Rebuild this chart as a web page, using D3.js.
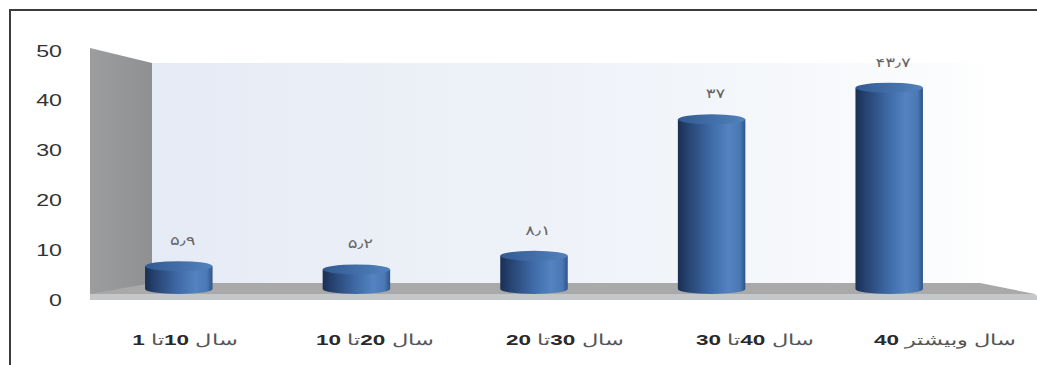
<!DOCTYPE html>
<html>
<head>
<meta charset="utf-8">
<script src="https://cdn.jsdelivr.net/npm/d3@7"></script>
<style>
  body { margin: 0; background: #fff; }
  svg { display: block; font-family: "DejaVu Sans", sans-serif; }
</style>
</head>
<body>
<div class="chart"></div>
<script>
// data
const categories = ["سال 10تا 1", "سال 20تا 10", "سال 30تا 20", "سال 40تا 30", "سال وبیشتر 40"];
const values = [5.9, 5.2, 8.1, 37, 43.7];
const yTicks = [0, 10, 20, 30, 40, 50];

const W = 1037, H = 365;

const svg = d3.select(".chart")
  .append("svg")
  .attr("width", W)
  .attr("height", H);

const defs = svg.append("defs");

// scales: front plane (ticks + category labels), mid depth (bars)
const yFront = d3.scaleLinear().domain([0, 50]).range([300, 51]);
const yBack = d3.scaleLinear().domain([0, 50]).range([283, 63]);
const yBar = d3.scaleLinear().domain([0, 50]).range([294, 58]);

const xFront = d3.scaleBand().domain(categories).range([90, 1040]);
const xBar = d3.scaleBand().domain(categories).range([90, 978]);

// gradients
const wallGrad = defs.append("linearGradient").attr("id", "wall")
  .attr("x1", 0).attr("x2", 1).attr("y1", 0).attr("y2", 0);
wallGrad.append("stop").attr("offset", 0).attr("stop-color", "#e5ebf5");
wallGrad.append("stop").attr("offset", 0.6).attr("stop-color", "#f1f4f9");
wallGrad.append("stop").attr("offset", 0.95).attr("stop-color", "#fbfcfd");
wallGrad.append("stop").attr("offset", 1).attr("stop-color", "#ffffff");

const sideGrad = defs.append("linearGradient").attr("id", "side")
  .attr("x1", 0).attr("x2", 1).attr("y1", 0).attr("y2", 0);
sideGrad.append("stop").attr("offset", 0).attr("stop-color", "#9c9d9f");
sideGrad.append("stop").attr("offset", 1).attr("stop-color", "#8f9092");

const bodyGrad = defs.append("linearGradient").attr("id", "cyl")
  .attr("x1", 0).attr("x2", 1).attr("y1", 0).attr("y2", 0);
[[0, "#1a2f52"], [0.12, "#243f6c"], [0.5, "#3f6ca8"], [0.75, "#5383c0"], [0.92, "#4a78b4"], [1, "#2d5387"]]
  .forEach(s => bodyGrad.append("stop").attr("offset", s[0]).attr("stop-color", s[1]));

const topGrad = defs.append("linearGradient").attr("id", "cyltop")
  .attr("x1", 0).attr("x2", 1).attr("y1", 0).attr("y2", 0);
topGrad.append("stop").attr("offset", 0).attr("stop-color", "#325a92");
topGrad.append("stop").attr("offset", 1).attr("stop-color", "#5282be");

// back wall, side wall, floor
svg.append("rect")
  .attr("x", 152).attr("y", yBack(50))
  .attr("width", 990 - 152).attr("height", yBack(0) - yBack(50))
  .attr("fill", "url(#wall)");

svg.append("path")
  .attr("d", `M90,${yFront(50) - 3} L152,${yBack(50)} L152,${yBack(0)} L90,${yFront(0)} Z`)
  .attr("fill", "url(#side)");

svg.append("path")
  .attr("d", `M152,${yBack(0)} L980,${yBack(0)} L1035,294 L90,294 Z`)
  .attr("fill", "#a9a9aa");

svg.append("path")
  .attr("d", `M90,294 L1035,294 L1037,296 L1037,300 L90,${yFront(0)} Z`)
  .attr("fill", "#c6c7c9");

// frame
svg.append("path")
  .attr("d", `M10,${H} V10 H${W}`)
  .attr("fill", "none")
  .attr("stroke", "#3c3c3c")
  .attr("stroke-width", 2);

// y axis
const yAxis = svg.append("g")
  .attr("transform", "translate(62,0)")
  .call(d3.axisLeft(yFront).tickValues(yTicks).tickSize(0).tickPadding(0));
yAxis.select(".domain").remove();
yAxis.selectAll("text")
  .attr("font-size", 16)
  .attr("fill", "#333")
  .attr("transform", "scale(1.45,1)");

// x axis labels: digits bold, words thin
const xAxis = svg.append("g")
  .attr("transform", "translate(0,340)")
  .call(d3.axisBottom(xFront).tickSize(0).tickPadding(0));
xAxis.select(".domain").remove();
xAxis.selectAll("text")
  .attr("dy", "0.35em")
  .attr("y", 0)
  .attr("font-size", 15)
  .attr("fill", "#333")
  .attr("direction", "rtl")
  .attr("transform", "scale(1.5,1)")
  .text(null)
  .each(function (d) {
    const t = d3.select(this);
    d.split(/(\d+)/).filter(s => s.length).forEach(s => {
      t.append("tspan")
        .attr("font-weight", /\d/.test(s) ? "bold" : "normal")
        .attr("fill", /\d/.test(s) ? "#2a2a2a" : "#555")
        .text(s);
    });
  });

// cylinders
const rx = xBar.bandwidth() * 0.19, ry = 5;
const bars = svg.selectAll(".bar")
  .data(values)
  .enter().append("g")
  .attr("class", "bar");

bars.append("path")
  .attr("d", (d, i) => {
    const cx = xBar(categories[i]) + xBar.bandwidth() / 2;
    const yb = yBar(0) - 5, yt = yBar(d);
    return `M${cx - rx},${yt} L${cx - rx},${yb} A${rx},${ry} 0 0 0 ${cx + rx},${yb} L${cx + rx},${yt} Z`;
  })
  .attr("fill", "url(#cyl)");

bars.append("ellipse")
  .attr("cx", (d, i) => xBar(categories[i]) + xBar.bandwidth() / 2)
  .attr("cy", d => yBar(d))
  .attr("rx", rx)
  .attr("ry", ry)
  .attr("fill", "url(#cyltop)");

// value labels in Persian digits
const fa = v => String(v).replace(/\d/g, c => "۰۱۲۳۴۵۶۷۸۹"[c]).replace(".", "٫");

bars.append("text")
  .attr("transform", (d, i) =>
    `translate(${xBar(categories[i]) + xBar.bandwidth() / 2 + 4},${yBar(d) - 21}) scale(1.4,1)`)
  .attr("text-anchor", "middle")
  .attr("font-size", 13)
  .attr("fill", "#666")
  .text(d => fa(d));
</script>
</body>
</html>
